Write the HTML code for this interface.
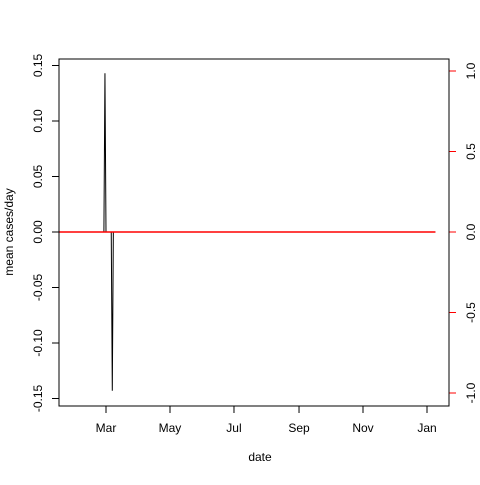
<!DOCTYPE html>
<html><head><meta charset="utf-8"><style>
body{margin:0;background:#fff}
text{font-family:"Liberation Sans",sans-serif;font-size:12px}
</style></head><body>
<svg id="chart" width="480" height="480">
<rect x="0" y="0" width="480" height="480" fill="#fff"/>
<g id="plot"></g>
<rect x="59" y="59" width="390" height="347" fill="none" stroke="#000"/>
<text x="260" y="461" text-anchor="middle">date</text>
<text transform="translate(13,232) rotate(-90)" text-anchor="middle">mean cases/day</text>
</svg>
<script>
const blackDays=[28,58,59,60,65,66,67,374];
const blackValues=[0,0,0.143,0,0,-0.143,0,0];
const redDays=[15,374];
const redValues=[0,0];
const leftTicks=[-0.15,-0.10,-0.05,0.00,0.05,0.10,0.15];
const leftLabels=["-0.15","-0.10","-0.05","0.00","0.05","0.10","0.15"];
const rightTicks=[-1.0,-0.5,0.0,0.5,1.0];
const rightLabels=["-1.0","-0.5","0.0","0.5","1.0"];
const monthDays=[60,121,182,244,305,366];
const monthLabels=["Mar","May","Jul","Sep","Nov","Jan"];
const NS="http://www.w3.org/2000/svg";
const g=document.getElementById('plot');
const xS=d=>106+(d-60)*(321/306);
const yL=v=>232-v*(166.5/0.15);
const yR=v=>232-v*161;
function el(t,a){const e=document.createElementNS(NS,t);for(const k in a)e.setAttribute(k,a[k]);g.appendChild(e);return e;}
leftTicks.forEach((v,i)=>{
  const t=el('line',{x1:52,x2:59,y1:yL(v),y2:yL(v),stroke:'#000'});
  
  
  const l=el('text',{transform:`translate(42,${yL(v)}) rotate(-90)`,'text-anchor':'middle'});
  l.textContent=leftLabels[i];
  
  
});
el('line',{x1:449,x2:449,y1:yR(1),y2:yR(-1),stroke:'#f00'});
rightTicks.forEach((v,i)=>{
  const t=el('line',{x1:449,x2:456,y1:yR(v),y2:yR(v),stroke:'#f00'});
  
  
  const l=el('text',{transform:`translate(475,${yR(v)}) rotate(-90)`,'text-anchor':'middle',fill:'#000'});
  l.textContent=rightLabels[i];
  
  
});
monthDays.forEach((d,i)=>{
  const t=el('line',{x1:xS(d),x2:xS(d),y1:406,y2:413,stroke:'#000'});
  
  
  const l=el('text',{x:xS(d),y:432,'text-anchor':'middle'});
  l.textContent=monthLabels[i];
  
  
});
const bp=el('polyline',{points:blackDays.map((d,i)=>xS(d)+','+yL(blackValues[i])).join(' '),fill:'none',stroke:'#000'});


const rp=el('polyline',{points:redDays.map((d,i)=>xS(d)+','+yR(redValues[i])).join(' '),fill:'none',stroke:'#f00','stroke-width':1.5});


</script>
</body></html>
